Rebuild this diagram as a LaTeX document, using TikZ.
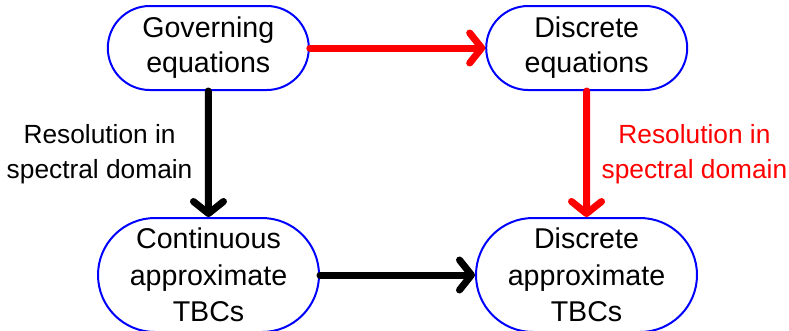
\documentclass[tikz,border=0pt]{standalone}
\usepackage{fontspec}
\setmainfont{Liberation Sans}
\usetikzlibrary{arrows.meta}
\definecolor{boxblue}{RGB}{0,0,255}
\definecolor{flowred}{RGB}{255,0,0}
\tikzset{
  topbox/.style={draw=boxblue, line width=2pt, fill=white, rounded corners=42pt,
    minimum width=201pt, minimum height=84pt, inner sep=0pt, align=center,
    font=\fontsize{28.6}{35}\selectfont},
  botbox/.style={draw=boxblue, line width=2pt, fill=white, rounded corners=57pt,
    minimum width=221pt, minimum height=114pt, inner sep=0pt, align=center,
    font=\fontsize{28.6}{36.5}\selectfont},
  flow/.style={line width=7pt, line cap=round,
    -{Straight Barb[length=12pt,width=30pt,round]}},
  lab/.style={inner sep=0pt, align=center, font=\fontsize{26.3}{35}\selectfont}
}
\begin{document}
\begin{tikzpicture}[x=1pt,y=-1pt]
\useasboundingbox (0,0) rectangle (789,330);
\node[topbox] (ge) at (208.3,48) {Governing\\equations};
\node[topbox] (de) at (586.7,48) {Discrete\\equations};
\node[botbox] (ca) at (208.5,275) {Continuous\\approximate\\TBCs};
\node[botbox] (da) at (586.5,275) {Discrete\\approximate\\TBCs};
\draw[flow, flowred] (ge.east) -- (de.west);
\draw[flow, black] (ca.east) -- (da.west);
\draw[flow, black] (ge.south) -- (ca.north)
  node[lab, midway, left, xshift=-12.5pt] (l1) {Resolution in\\spectral domain};
\draw[flow, flowred] (de.south) -- (da.north)
  node[lab, midway, right, xshift=11.5pt, text=flowred] (l2) {Resolution in\\spectral domain};
\end{tikzpicture}
\end{document}
